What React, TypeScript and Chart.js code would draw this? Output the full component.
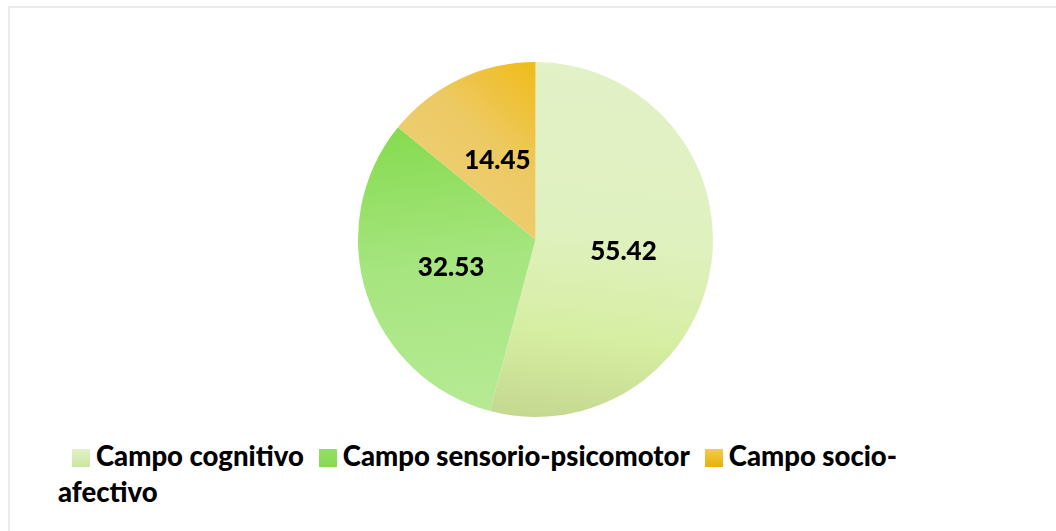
import React, { useEffect, useRef } from "react";
import { Chart, registerables } from "chart.js";

Chart.register(...registerables);

const categories = ["Campo cognitivo", "Campo sensorio-psicomotor", "Campo socio-afectivo"];
const values = [55.42, 32.53, 14.45];
const valueLabels = ["55.42", "32.53", "14.45"];

const legendSwatches = [
  "linear-gradient(180deg, #e3f2c8 0%, #c9e6a0 100%)",
  "linear-gradient(180deg, #94de62 0%, #86d955 100%)",
  "linear-gradient(180deg, #f2cb55 0%, #e6b300 100%)",
];

function sliceGradient(ctx: CanvasRenderingContext2D, area: any, index: number) {
  const cx = (area.left + area.right) / 2;
  const cy = (area.top + area.bottom) / 2;
  const r = Math.min(area.right - area.left, area.bottom - area.top) / 2;
  let g: CanvasGradient;
  if (index === 0) {
    g = ctx.createLinearGradient(cx + 0.1 * r, cy - r, cx - 0.15 * r, cy + r);
    g.addColorStop(0, "#e2f1c6");
    g.addColorStop(0.45, "#e0f1c0");
    g.addColorStop(0.75, "#d6eea2");
    g.addColorStop(1, "#c4d88f");
  } else if (index === 1) {
    g = ctx.createLinearGradient(cx - 0.55 * r, cy - 0.65 * r, cx - 0.35 * r, cy + 0.9 * r);
    g.addColorStop(0, "#86db50");
    g.addColorStop(0.5, "#a6e57f");
    g.addColorStop(1, "#b5ea93");
  } else {
    g = ctx.createLinearGradient(cx - 0.75 * r, cy - 0.2 * r, cx, cy - r);
    g.addColorStop(0, "#edd07c");
    g.addColorStop(0.55, "#edc962");
    g.addColorStop(1, "#f0bb18");
  }
  return g;
}

const labelPlugin = {
  id: "sliceLabels",
  afterDatasetsDraw(chart: any) {
    const ctx = chart.ctx;
    const meta = chart.getDatasetMeta(0);
    ctx.save();
    ctx.font = "900 26px Lato";
    ctx.fillStyle = "#000000";
    ctx.textAlign = "center";
    ctx.textBaseline = "middle";
    meta.data.forEach((arc: any, i: number) => {
      const p = arc.tooltipPosition();
      ctx.fillText(valueLabels[i], p.x, p.y + 1);
    });
    ctx.restore();
  },
};

export default function App() {
  const canvasRef = useRef<HTMLCanvasElement | null>(null);

  useEffect(() => {
    const canvas = canvasRef.current;
    if (!canvas) return;
    const chart = new Chart(canvas, {
      type: "pie",
      data: {
        labels: categories,
        datasets: [
          {
            data: values,
            backgroundColor: (context: any) => {
              const c = context.chart;
              const area = c.chartArea;
              if (!area) return "#dddddd";
              return sliceGradient(c.ctx, area, context.dataIndex);
            },
            borderWidth: 0,
          },
        ],
      },
      options: {
        responsive: false,
        animation: false,
        devicePixelRatio: 1,
        layout: { padding: 0 },
        plugins: {
          legend: { display: false },
          tooltip: { enabled: false },
        },
      },
      plugins: [labelPlugin],
    });
    return () => chart.destroy();
  }, []);

  return (
    <div
      style={{
        position: "absolute",
        left: 8,
        top: 6,
        width: 1048,
        height: 525,
        borderTop: "2px solid #ebebeb",
        borderLeft: "2px solid #ebebeb",
        boxSizing: "border-box",
        background: "#ffffff",
        overflow: "hidden",
      }}
    >
      <canvas
        ref={canvasRef}
        width={355}
        height={355}
        style={{ position: "absolute", left: 358 - 10, top: 62 - 8, width: 355, height: 355 }}
      />
      <div
        style={{
          position: "absolute",
          left: 58 - 10,
          top: 438 - 8,
          width: 900,
          fontFamily: "Lato",
          fontWeight: 900,
          fontSize: 27.5,
          lineHeight: "36px",
          color: "#000000",
          textIndent: 14,
        }}
      >
        {categories.map((c, i) => (
          <React.Fragment key={c}>
            <span
              style={{
                display: "inline-block",
                width: 18,
                height: 18,
                background: legendSwatches[i],
                marginRight: 6,
                verticalAlign: "-1px",
                textIndent: 0,
              }}
            />
            <span>{c}</span>
            {i < categories.length - 1 ? <span style={{ display: "inline-block", width: 15 }} /> : null}
          </React.Fragment>
        ))}
      </div>
    </div>
  );
}
